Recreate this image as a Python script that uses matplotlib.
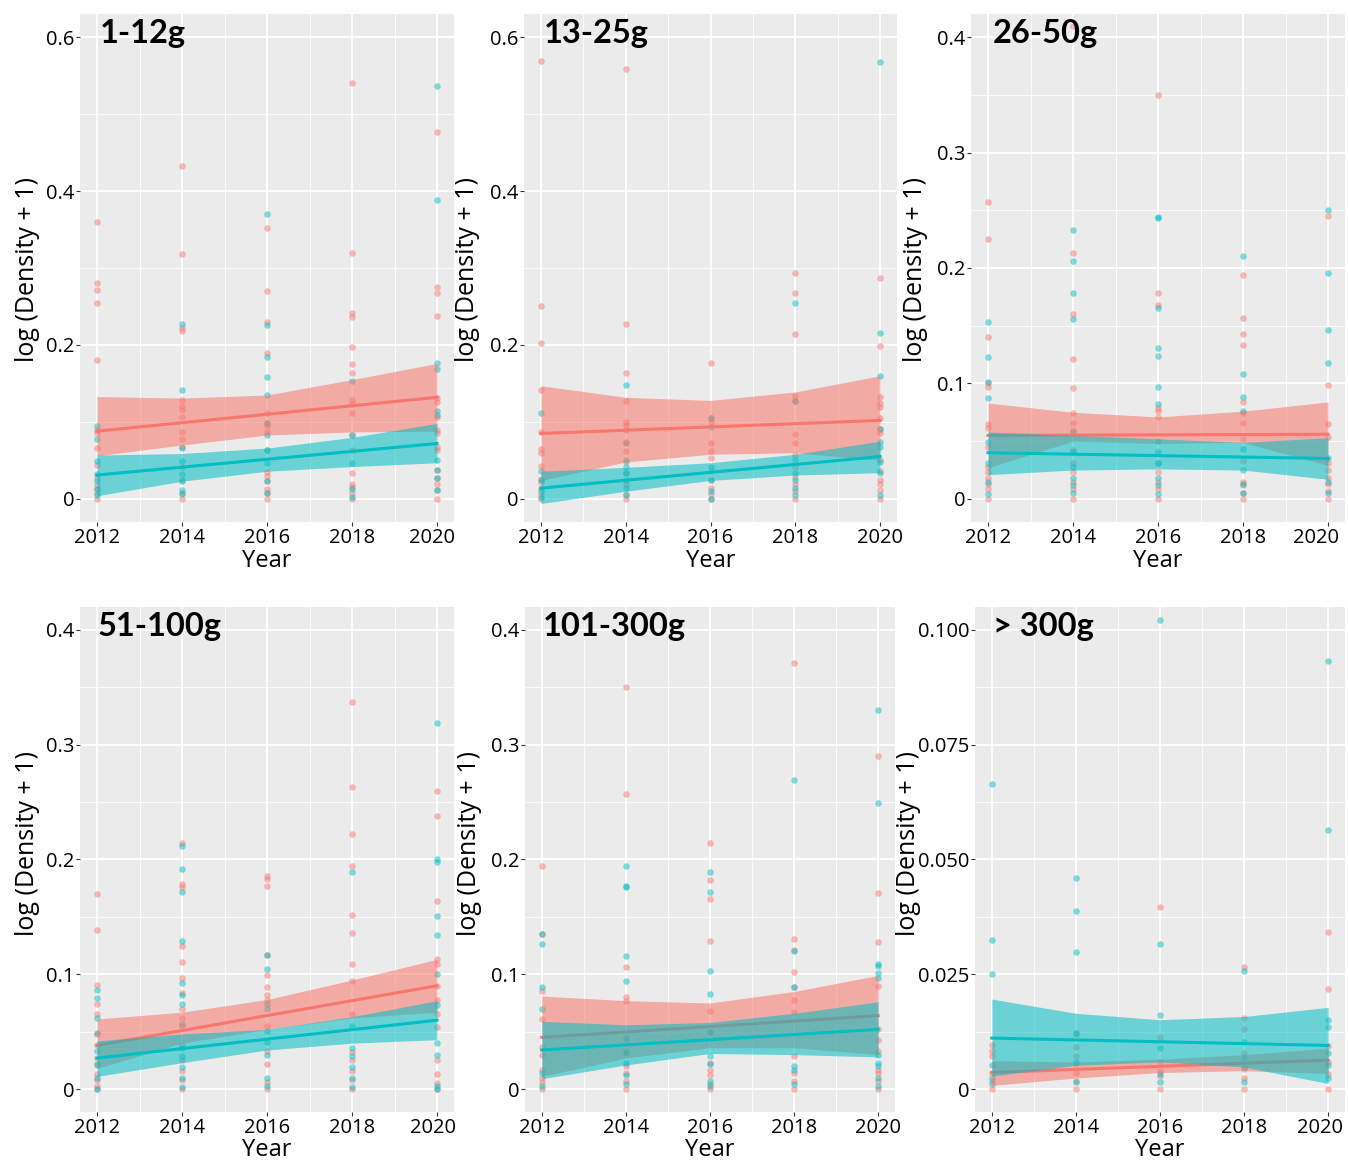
import matplotlib.pyplot as plt
from matplotlib.ticker import FixedLocator
from matplotlib.transforms import ScaledTranslation

RED = "#F8766D"
TEAL = "#00BFC4"

years = [2012, 2014, 2016, 2018, 2020]
fit_years = [2012, 2020]

# ---- 1-12g ----
p1_red = [
    [0.36, 0.281, 0.272, 0.255, 0.18, 0.09, 0.085, 0.066, 0.044, 0.027, 0.018, 0.013, 0.008, 0.0],
    [0.432, 0.318, 0.222, 0.218, 0.128, 0.121, 0.116, 0.107, 0.087, 0.078, 0.068, 0.042, 0.025, 0.008, 0.0],
    [0.352, 0.27, 0.23, 0.19, 0.111, 0.099, 0.095, 0.087, 0.063, 0.035, 0.03, 0.023, 0.013, 0.008, 0.0],
    [0.54, 0.319, 0.242, 0.236, 0.198, 0.175, 0.163, 0.128, 0.123, 0.111, 0.083, 0.063, 0.034, 0.02, 0.015, 0.008, 0.0],
    [0.477, 0.275, 0.267, 0.238, 0.131, 0.126, 0.107, 0.09, 0.085, 0.068, 0.063, 0.037, 0.027, 0.02, 0.011, 0.0],
]
p1_teal = [
    [0.095, 0.078, 0.049, 0.033, 0.023, 0.013, 0.005],
    [0.227, 0.142, 0.066, 0.049, 0.032, 0.023, 0.011, 0.006],
    [0.37, 0.226, 0.185, 0.158, 0.135, 0.099, 0.083, 0.063, 0.047, 0.023, 0.008],
    [0.153, 0.083, 0.047, 0.013, 0.003],
    [0.536, 0.388, 0.177, 0.169, 0.114, 0.109, 0.051, 0.037, 0.027, 0.011],
]
p1_red_fit = [0.088, 0.132]
p1_red_lo = [0.056, 0.07, 0.083, 0.087, 0.088]
p1_red_hi = [0.133, 0.131, 0.135, 0.155, 0.176]
p1_teal_fit = [0.031, 0.072]
p1_teal_lo = [0.004, 0.023, 0.036, 0.042, 0.047]
p1_teal_hi = [0.057, 0.059, 0.066, 0.08, 0.098]

# ---- 13-25g ----
p2_red = [
    [0.569, 0.25, 0.202, 0.142, 0.087, 0.065, 0.06, 0.043, 0.026, 0.022, 0.014, 0.007, 0.0],
    [0.558, 0.227, 0.163, 0.127, 0.1, 0.096, 0.089, 0.074, 0.062, 0.048, 0.034, 0.019, 0.007, 0.0],
    [0.177, 0.105, 0.1, 0.072, 0.062, 0.053, 0.036, 0.024, 0.014, 0.007, 0.0],
    [0.293, 0.268, 0.214, 0.134, 0.127, 0.084, 0.072, 0.057, 0.041, 0.029, 0.019, 0.01, 0.0],
    [0.287, 0.199, 0.132, 0.125, 0.12, 0.105, 0.091, 0.086, 0.05, 0.036, 0.024, 0.019, 0.012, 0.0],
]
p2_teal = [
    [0.112, 0.036, 0.024, 0.01, 0.002],
    [0.148, 0.072, 0.05, 0.041, 0.034, 0.024, 0.014, 0.005],
    [0.105, 0.093, 0.041, 0.024, 0.01, 0.0],
    [0.255, 0.127, 0.05, 0.034, 0.024, 0.014, 0.005],
    [0.567, 0.216, 0.16, 0.091, 0.074, 0.067, 0.048, 0.034, 0.005],
]
p2_red_fit = [0.085, 0.102]
p2_red_lo = [0.024, 0.048, 0.058, 0.06, 0.05]
p2_red_hi = [0.147, 0.132, 0.128, 0.139, 0.16]
p2_teal_fit = [0.014, 0.055]
p2_teal_lo = [-0.006, 0.01, 0.024, 0.031, 0.034]
p2_teal_hi = [0.036, 0.041, 0.047, 0.058, 0.075]

# ---- 26-50g ----
p3_red = [
    [0.257, 0.225, 0.14, 0.1, 0.097, 0.065, 0.061, 0.045, 0.028, 0.023, 0.018, 0.013, 0.009, 0.0],
    [0.41, 0.213, 0.16, 0.121, 0.096, 0.074, 0.066, 0.06, 0.042, 0.031, 0.023, 0.015, 0.009, 0.0],
    [0.35, 0.178, 0.168, 0.079, 0.076, 0.071, 0.031, 0.023, 0.015, 0.009, 0.0],
    [0.194, 0.157, 0.143, 0.133, 0.084, 0.074, 0.066, 0.052, 0.033, 0.015, 0.012, 0.005, 0.0],
    [0.245, 0.099, 0.065, 0.054, 0.031, 0.025, 0.018, 0.013, 0.007, 0.0],
]
p3_teal = [
    [0.153, 0.123, 0.101, 0.087, 0.049, 0.031, 0.015, 0.004],
    [0.233, 0.206, 0.178, 0.156, 0.058, 0.041, 0.028, 0.018, 0.012, 0.005],
    [0.244, 0.243, 0.165, 0.131, 0.124, 0.097, 0.082, 0.05, 0.041, 0.031, 0.018, 0.012, 0.004],
    [0.21, 0.108, 0.088, 0.076, 0.043, 0.025, 0.013, 0.005],
    [0.25, 0.196, 0.146, 0.118, 0.035, 0.015, 0.005],
]
p3_red_fit = [0.055, 0.056]
p3_red_lo = [0.027, 0.05, 0.048, 0.049, 0.029]
p3_red_hi = [0.083, 0.075, 0.071, 0.076, 0.084]
p3_teal_fit = [0.04, 0.035]
p3_teal_lo = [0.021, 0.025, 0.026, 0.025, 0.017]
p3_teal_hi = [0.058, 0.055, 0.052, 0.049, 0.053]

# ---- 51-100g ----
p4_red = [
    [0.17, 0.139, 0.091, 0.074, 0.065, 0.048, 0.038, 0.027, 0.021, 0.013, 0.008, 0.003, 0.0],
    [0.214, 0.179, 0.176, 0.125, 0.111, 0.097, 0.084, 0.07, 0.062, 0.055, 0.038, 0.025, 0.016, 0.008, 0.0],
    [0.186, 0.183, 0.177, 0.117, 0.099, 0.089, 0.082, 0.078, 0.055, 0.033, 0.022, 0.006, 0.0],
    [0.337, 0.263, 0.222, 0.194, 0.152, 0.136, 0.109, 0.094, 0.065, 0.032, 0.025, 0.016, 0.008, 0.0],
    [0.26, 0.238, 0.164, 0.113, 0.109, 0.09, 0.078, 0.065, 0.054, 0.025, 0.013, 0.005, 0.0],
]
p4_teal = [
    [0.086, 0.079, 0.062, 0.049, 0.033, 0.022, 0.01, 0.0],
    [0.212, 0.192, 0.172, 0.129, 0.092, 0.082, 0.074, 0.057, 0.036, 0.029, 0.019, 0.01, 0.002],
    [0.117, 0.105, 0.074, 0.07, 0.051, 0.041, 0.03, 0.01, 0.003],
    [0.189, 0.055, 0.036, 0.029, 0.019, 0.01, 0.002],
    [0.319, 0.2, 0.198, 0.151, 0.134, 0.1, 0.073, 0.04, 0.03, 0.003, 0.0],
]
p4_red_fit = [0.038, 0.09]
p4_red_lo = [0.018, 0.04, 0.052, 0.062, 0.067]
p4_red_hi = [0.061, 0.067, 0.078, 0.095, 0.113]
p4_teal_fit = [0.027, 0.06]
p4_teal_lo = [0.011, 0.023, 0.034, 0.04, 0.043]
p4_teal_hi = [0.042, 0.048, 0.052, 0.063, 0.077]

# ---- 101-300g ----
p5_red = [
    [0.194, 0.135, 0.085, 0.061, 0.037, 0.03, 0.017, 0.01, 0.006, 0.0],
    [0.35, 0.257, 0.106, 0.08, 0.077, 0.045, 0.033, 0.02, 0.014, 0.007, 0.0],
    [0.214, 0.182, 0.166, 0.129, 0.068, 0.05, 0.023, 0.017, 0.012, 0.004, 0.0],
    [0.371, 0.131, 0.121, 0.102, 0.089, 0.078, 0.067, 0.029, 0.014, 0.007, 0.0],
    [0.29, 0.171, 0.128, 0.09, 0.052, 0.043, 0.033, 0.017, 0.014, 0.007, 0.0],
]
p5_teal = [
    [0.135, 0.126, 0.089, 0.07, 0.014, 0.003],
    [0.194, 0.177, 0.176, 0.116, 0.094, 0.044, 0.031, 0.023, 0.012, 0.004],
    [0.189, 0.172, 0.103, 0.083, 0.05, 0.029, 0.022, 0.007, 0.003],
    [0.269, 0.12, 0.089, 0.02, 0.017, 0.004],
    [0.33, 0.249, 0.109, 0.107, 0.101, 0.097, 0.03, 0.023, 0.02, 0.01, 0.003],
]
p5_red_fit = [0.045, 0.064]
p5_red_lo = [0.011, 0.027, 0.036, 0.036, 0.03]
p5_red_hi = [0.081, 0.077, 0.075, 0.085, 0.099]
p5_teal_fit = [0.034, 0.052]
p5_teal_lo = [0.009, 0.021, 0.031, 0.03, 0.028]
p5_teal_hi = [0.059, 0.056, 0.058, 0.066, 0.076]

# ---- > 300g ----
p6_red = [
    [0.0095, 0.0083, 0.0071, 0.0036, 0.0017, 0.0],
    [0.0119, 0.0091, 0.0071, 0.0055, 0.0036, 0.0017, 0.0],
    [0.0396, 0.0113, 0.0059, 0.004, 0.0028, 0.0],
    [0.0265, 0.0155, 0.0131, 0.0079, 0.0044, 0.0024, 0.0],
    [0.0341, 0.0218, 0.0094, 0.0059, 0.0032, 0.0],
]
p6_teal = [
    [0.0664, 0.0325, 0.025, 0.0052, 0.0024, 0.001],
    [0.046, 0.0388, 0.0299, 0.0123, 0.0059, 0.0016],
    [0.1021, 0.0317, 0.0161, 0.0089, 0.0032, 0.0016],
    [0.0258, 0.0103, 0.0067, 0.0048, 0.0016],
    [0.0933, 0.0564, 0.0151, 0.0135, 0.0079, 0.0052, 0.0024],
]
p6_red_fit = [0.0036, 0.0063]
p6_red_lo = [0.0008, 0.0024, 0.0036, 0.004, 0.0034]
p6_red_hi = [0.0062, 0.0059, 0.0065, 0.0075, 0.0089]
p6_teal_fit = [0.0111, 0.0095]
p6_teal_lo = [0.0028, 0.0052, 0.0059, 0.0048, 0.0012]
p6_teal_hi = [0.0196, 0.0165, 0.0151, 0.0158, 0.0178]

titles = ["1-12g", "13-25g", "26-50g", "51-100g", "101-300g", "> 300g"]

W, H = 1348, 1164
fig = plt.figure(figsize=(W / 100, H / 100), dpi=100)

# axes boxes in pixels: left, top, right, bottom
boxes = [(80, 14, 454, 522), (524, 14, 897, 522), (971, 14, 1345, 522),
         (80, 607, 454, 1112), (525, 607, 895, 1112), (975, 607, 1345, 1112)]
ylims = [(-0.03, 0.63), (-0.03, 0.63), (-0.02, 0.42),
         (-0.02, 0.42), (-0.02, 0.42), (-0.005, 0.105)]
major = [[0, 0.2, 0.4, 0.6], [0, 0.2, 0.4, 0.6], [0, 0.1, 0.2, 0.3, 0.4],
         [0, 0.1, 0.2, 0.3, 0.4], [0, 0.1, 0.2, 0.3, 0.4], [0, 0.025, 0.05, 0.075, 0.1]]
minor = [[0.1, 0.3, 0.5], [0.1, 0.3, 0.5], [0.05, 0.15, 0.25, 0.35],
         [0.05, 0.15, 0.25, 0.35], [0.05, 0.15, 0.25, 0.35], [0.0125, 0.0375, 0.0625, 0.0875]]
labels = [["0", "0.2", "0.4", "0.6"], ["0", "0.2", "0.4", "0.6"],
          ["0", "0.1", "0.2", "0.3", "0.4"], ["0", "0.1", "0.2", "0.3", "0.4"],
          ["0", "0.1", "0.2", "0.3", "0.4"], ["0", "0.025", "0.050", "0.075", "0.100"]]
title_pos = [(100, 43), (544, 43), (993, 43), (98, 636), (543, 636), (993, 636)]
ylab_pos = [(28, 269), (468, 269), (915, 269), (28, 843), (470, 843), (908, 843)]
last_shift = [-5, 0, -12, -4, 0, -8]   # nudge of the "2020" label, pixels
xlab_pad = [1, 1, 1, 0, 0, 0]

panels = [
    (p1_red, p1_teal, p1_red_fit, p1_red_lo, p1_red_hi, p1_teal_fit, p1_teal_lo, p1_teal_hi),
    (p2_red, p2_teal, p2_red_fit, p2_red_lo, p2_red_hi, p2_teal_fit, p2_teal_lo, p2_teal_hi),
    (p3_red, p3_teal, p3_red_fit, p3_red_lo, p3_red_hi, p3_teal_fit, p3_teal_lo, p3_teal_hi),
    (p4_red, p4_teal, p4_red_fit, p4_red_lo, p4_red_hi, p4_teal_fit, p4_teal_lo, p4_teal_hi),
    (p5_red, p5_teal, p5_red_fit, p5_red_lo, p5_red_hi, p5_teal_fit, p5_teal_lo, p5_teal_hi),
    (p6_red, p6_teal, p6_red_fit, p6_red_lo, p6_red_hi, p6_teal_fit, p6_teal_lo, p6_teal_hi),
]

FONT = "Open Sans"

for i, (red, teal, rfit, rlo, rhi, tfit, tlo, thi) in enumerate(panels):
    l, t, r, b = boxes[i]
    ax = fig.add_axes([l / W, 1 - b / H, (r - l) / W, (b - t) / H])
    ax.set_facecolor("#EBEBEB")
    for s in ax.spines.values():
        s.set_visible(False)

    # points
    for yr, vals in zip(years, red):
        ax.scatter([yr] * len(vals), vals, s=22, color=RED, alpha=0.5, lw=0, zorder=2)
    for yr, vals in zip(years, teal):
        ax.scatter([yr] * len(vals), vals, s=22, color=TEAL, alpha=0.5, lw=0, zorder=2)

    # smooths: red ribbon + line, then teal ribbon + line
    ax.fill_between(years, rlo, rhi, color=RED, alpha=0.55, lw=0, zorder=3)
    ax.plot(fit_years, rfit, color=RED, lw=2.2, zorder=4)
    ax.fill_between(years, tlo, thi, color=TEAL, alpha=0.55, lw=0, zorder=5)
    ax.plot(fit_years, tfit, color=TEAL, lw=2.2, zorder=6)

    ax.set_xlim(2011.6, 2020.4)
    ax.set_ylim(*ylims[i])
    ax.set_xticks(years)
    ax.xaxis.set_minor_locator(FixedLocator([2013, 2015, 2017, 2019]))
    ax.set_yticks(major[i])
    ax.set_yticklabels(labels[i])
    ax.yaxis.set_minor_locator(FixedLocator(minor[i]))
    ax.grid(which="major", color="white", lw=1.3, zorder=0)
    ax.grid(which="minor", color="white", lw=0.6, zorder=0)
    ax.set_axisbelow(True)
    ax.tick_params(which="major", length=3, width=0.8, color="#333333", pad=1,
                   labelsize=14.5, labelcolor="black")
    ax.tick_params(which="minor", length=0)
    for lab in ax.get_xticklabels() + ax.get_yticklabels():
        lab.set_family(FONT)
    last = ax.get_xticklabels()[-1]
    last.set_transform(last.get_transform() + ScaledTranslation(last_shift[i] / 100, 0, fig.dpi_scale_trans))
    ax.set_xlabel("Year", family=FONT, fontsize=17, labelpad=xlab_pad[i])

    yx, yy = ylab_pos[i]
    fig.text(yx / W, 1 - yy / H, "log (Density + 1)", family=FONT,
             fontsize=18, rotation=90, ha="center", va="center")
    tx, ty = title_pos[i]
    fig.text(tx / W, 1 - ty / H, titles[i], family="Lato", fontweight="bold",
             fontsize=23.5, ha="left", va="baseline")

fig.savefig("out.png", dpi=100)
